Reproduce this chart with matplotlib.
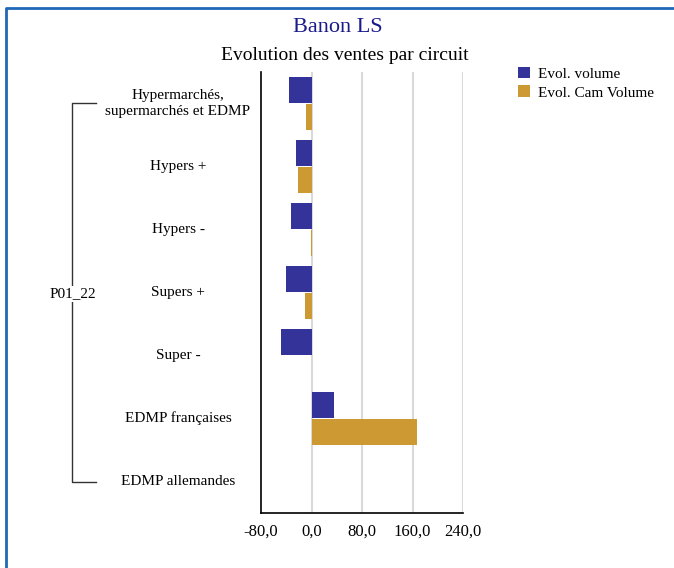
import numpy as np
import matplotlib
matplotlib.use('Agg')
import matplotlib.pyplot as plt
from matplotlib.lines import Line2D

plt.rcParams['font.family'] = ['Liberation Serif', 'DejaVu Serif']

categories = ['Hypermarchés,\nsupermarchés et EDMP', 'Hypers +', 'Hypers -',
              'Supers +', 'Super -', 'EDMP françaises', 'EDMP allemandes']
evol_volume = [-36, -25, -33, -40, -49, 35, 1]
evol_cam_volume = [-8, -21, -1.5, -11, 0.8, 167, 0.6]
group_label = 'P01_22'
x_ticks = [-80, 0, 80, 160, 240]

W, H = 674, 568
fig = plt.figure(figsize=(W / 100, H / 100), dpi=100)

def fx(px):
    return px / W

def fy(py):
    return 1 - py / H

# outer frame: only top and left edges are visible
fig.add_artist(Line2D([fx(6), fx(6), fx(674)], [fy(568), fy(8), fy(8)],
                      transform=fig.transFigure, color='#1f68b8', linewidth=2))

ax = fig.add_axes([fx(261), fy(513), fx(463 - 261), (513 - 72) / H])

n = len(categories)
y = np.arange(n)
h = 0.41
ax.barh(y - h / 2 - 0.015, evol_volume, height=h, color='#333399', zorder=3, label='Evol. volume')
ax.barh(y + h / 2 + 0.015, evol_cam_volume, height=h, color='#CC9933', zorder=3, label='Evol. Cam Volume')

ax.set_xlim(-80, 240)
ax.set_ylim(n - 0.5, -0.5)
ax.set_xticks(x_ticks)
ax.set_xticklabels([f'{v:.1f}'.replace('.', ',') for v in x_ticks], fontsize=12)
ax.tick_params(axis='x', length=0, pad=8)
ax.set_yticks([])
for v in x_ticks[1:]:
    ax.axvline(v, color='#d9d9d9', linewidth=1.5, zorder=1)
for s in ['top', 'right']:
    ax.spines[s].set_visible(False)
ax.spines['left'].set_linewidth(1.2)
ax.spines['bottom'].set_linewidth(1.2)

for i, cat in enumerate(categories):
    ax.text(fx(178), i, cat, transform=matplotlib.transforms.blended_transform_factory(fig.transFigure, ax.transData),
            ha='center', va='center', fontsize=11, linespacing=1.3)

# bracket for the group
y_top = fy(103)
y_bot = fy(482)
fig.add_artist(Line2D([fx(96), fx(72), fx(72), fx(96)], [y_top, y_top, y_bot, y_bot],
                      transform=fig.transFigure, color='#333333', linewidth=1))
fig.text(fx(73), fy(294), group_label, ha='center', va='center', fontsize=11,
         bbox=dict(facecolor='white', edgecolor='none', pad=1))

fig.text(fx(338), fy(27), 'Banon LS', ha='center', va='center', fontsize=16, color='#1a1a8c')
fig.text(fx(345), fy(55), 'Evolution des ventes par circuit', ha='center', va='center', fontsize=14)

fig.legend(loc='upper left', bbox_to_anchor=(fx(504), fy(53)), frameon=False, fontsize=11,
           handlelength=0.8, handleheight=0.8, handletextpad=0.5, labelspacing=0.3)

plt.savefig('out.png', dpi=100, facecolor='white')
plt.close()
